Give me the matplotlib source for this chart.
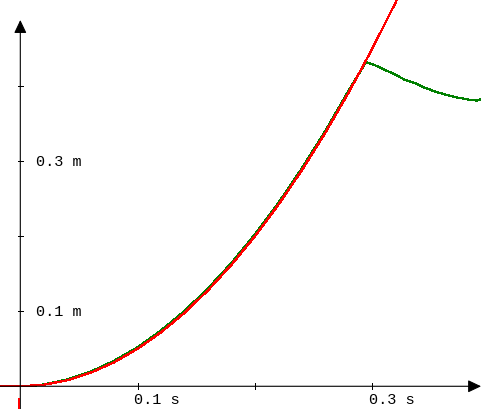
import matplotlib
matplotlib.use("Agg")
import matplotlib.pyplot as plt

# free fall (red)
t_free = [-0.018, 0.0, 0.02, 0.04, 0.06, 0.08, 0.10, 0.12, 0.14, 0.16, 0.18,
          0.20, 0.22, 0.24, 0.26, 0.28, 0.30, 0.32, 0.33]
y_free = [0.0, 0.0, 0.002, 0.008, 0.018, 0.032, 0.050, 0.072, 0.098, 0.128, 0.162,
          0.200, 0.242, 0.288, 0.338, 0.392, 0.450, 0.512, 0.545]

t_meas = [0.008, 0.02, 0.04, 0.06, 0.08, 0.10, 0.12, 0.14, 0.16, 0.18, 0.20,
          0.22, 0.24, 0.26, 0.28, 0.2947, 0.3024, 0.3109, 0.3194, 0.3280,
          0.3365, 0.3450, 0.3535, 0.3620, 0.3706, 0.3791, 0.3846, 0.3898, 0.3919]
y_meas = [0.0, 0.0025, 0.0090, 0.0195, 0.0340, 0.0520, 0.0745, 0.1005, 0.1305,
          0.1645, 0.2025, 0.2445, 0.2905, 0.3405, 0.3945, 0.4324, 0.4280, 0.4219,
          0.4157, 0.4085, 0.4041, 0.3980, 0.3931, 0.3891, 0.3855, 0.3833, 0.3815,
          0.3811, 0.3824]

x_ticks = [0.1, 0.2, 0.3]
y_ticks = [0.1, 0.2, 0.3, 0.4]
x_labels = {0.1: "0.1 s", 0.3: "0.3 s"}
y_labels = {0.1: "0.1 m", 0.3: "0.3 m"}

fig = plt.figure(figsize=(4.9, 4.1), dpi=100)
ax = fig.add_axes([0, 0, 1, 1])
ax.set_xlim(-0.01731, 0.4004)
ax.set_ylim(-0.0303, 0.5164)
ax.axis("off")

# axes with arrow heads
arrow = dict(arrowstyle="-|>,head_length=0.8,head_width=0.38", color="black",
             lw=0.8, shrinkA=0, shrinkB=0, mutation_scale=10)
ax.annotate("", xy=(0.3928, 0), xytext=(-0.01731, 0), arrowprops=arrow)
ax.annotate("", xy=(0, 0.4884), xytext=(0, -0.0303), arrowprops=arrow)

# tick marks
for t in x_ticks:
    ax.plot([t, t], [-0.004, 0.004], color="black", lw=0.72, antialiased=False)
for y in y_ticks:
    ax.plot([-0.0022, 0.0022], [y, y], color="black", lw=0.72, antialiased=False)

font = dict(family=["Liberation Mono", "DejaVu Sans Mono"], size=11)
for t, s in x_labels.items():
    ax.text(t - 0.0028, -0.0176, s, ha="left", va="center", **font)
for y, s in y_labels.items():
    ax.text(0.0134, y, s, ha="left", va="center", **font)

ax.plot(t_meas, y_meas, color="green", lw=0.9, antialiased=False)
ax.plot(t_free, y_free, color="red", lw=0.9, antialiased=False)
ax.plot([-0.0008, -0.0008], [-0.0173, -0.0303], color="red", lw=1.2,
        antialiased=False, zorder=6)

fig.savefig("out.png", dpi=100)
